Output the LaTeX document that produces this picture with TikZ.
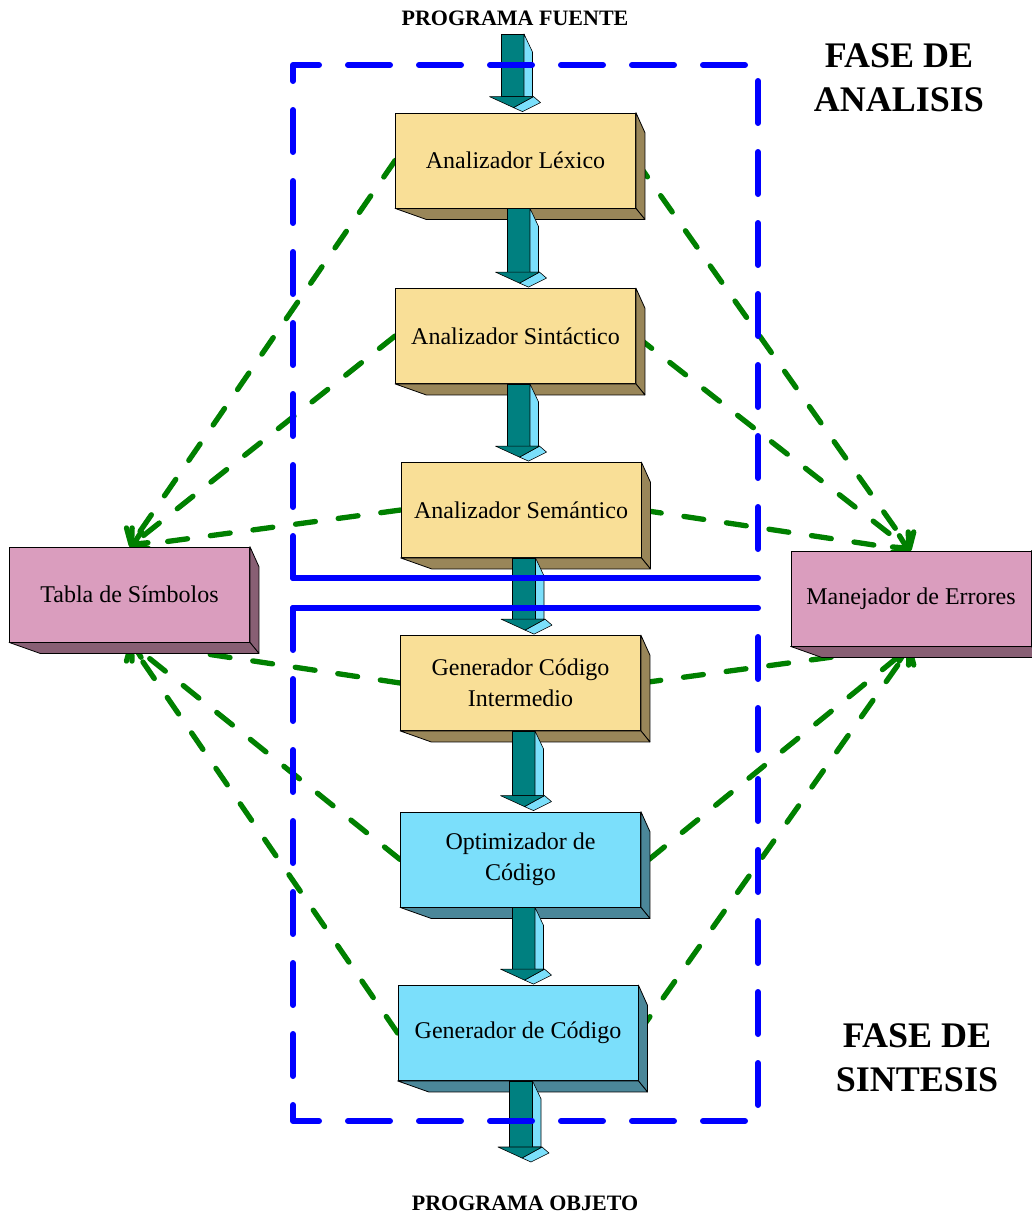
\documentclass[tikz,border=0pt]{standalone}
\usepackage{fontspec}
\setmainfont{Liberation Serif}
\usetikzlibrary{arrows.meta,calc}

\definecolor{sandface}{HTML}{F9DF97}
\definecolor{sandside}{HTML}{998659}
\definecolor{skyface}{HTML}{7BDFFB}
\definecolor{skyside}{HTML}{4B8799}
\definecolor{roseface}{HTML}{DA9DBE}
\definecolor{roseside}{HTML}{885F74}
\definecolor{shaftteal}{HTML}{008080}
\definecolor{shaftlight}{HTML}{7BDFFB}
\definecolor{linkgreen}{HTML}{008000}
\definecolor{frameblue}{HTML}{0000FF}

\pgfdeclarelayer{background}
\pgfsetlayers{background,main}

\tikzset{
  stage/.style={draw=black, line width=0.8pt, minimum width=240pt,
    minimum height=95pt, inner sep=0pt, align=center,
    font=\fontsize{24}{31}\selectfont},
  analysis/.style={stage, fill=sandface},
  synthesis/.style={stage, fill=skyface},
  support/.style={stage, fill=roseface},
  facet/.style={draw=black, line width=0.8pt, line join=round},
  shaftpart/.style={draw=black, line width=0.6pt, line join=round},
  link/.style={draw=linkgreen, line width=5.3pt, line cap=round,
    dash pattern=on 20pt off 23pt,
    -{Straight Barb[length=11pt, width=26pt, line cap=round, line join=round]}},
  frame/.style={draw=frameblue, line width=6pt, line cap=round, line join=round},
  framedash/.style={frame, dash pattern=on 42pt off 29pt},
  heading/.style={font=\bfseries\fontsize{22}{26}\selectfont},
  phase/.style={font=\bfseries\fontsize{36}{44}\selectfont, align=center},
}

% 3D side and bottom faces of a box node
\newcommand\extrude[2]{%
  \filldraw[facet, fill=#2] (#1.north east) -- ++(9,20)
    -- ([shift={(9,11)}]#1.south east) -- (#1.south east) -- cycle;
  \filldraw[facet, fill=#2] (#1.south west) -- ++(31,11)
    -- ([shift={(9,11)}]#1.south east) -- (#1.south east) -- cycle;
}

% 3D block arrow from point #1 (shaft top) to point #2 (just below tip)
\newcommand\blkarrow[2]{%
  \path let \p1=#1, \p2=#2 in
    coordinate (bt) at (\x1+3pt,\y1)
    coordinate (bh) at (\x1+3pt,\y2+16pt);
  \filldraw[shaftpart, fill=shaftteal] ([xshift=-11.5pt]bt) -- ([xshift=11.5pt]bt)
    -- ([xshift=11.5pt]bh) -- ([xshift=-11.5pt]bh) -- cycle;
  \filldraw[shaftpart, fill=shaftlight] ([xshift=11.5pt]bt) -- ([shift={(20,18)}]bt)
    -- ([xshift=20pt]bh) -- ([xshift=11.5pt]bh) -- cycle;
  \filldraw[shaftpart, fill=shaftlight] ([xshift=21pt]bh) -- ([shift={(28,6)}]bh)
    -- ([shift={(10,15)}]bh) -- ([shift={(1,11)}]bh) -- cycle;
  \filldraw[shaftpart, fill=shaftteal] ([xshift=-23pt]bh) -- ([xshift=21pt]bh)
    -- ([shift={(1,11)}]bh) -- cycle;
}

\begin{document}
\begin{tikzpicture}[x=1pt, y=-1pt]
\useasboundingbox (0,0) rectangle (1032,1215);

% compiler stages
\node[analysis]  (lex) at (515.5,160.5) {Analizador Léxico};
\node[analysis]  (sin) at (515.5,336)   {Analizador Sintáctico};
\node[analysis]  (sem) at (521,510)     {Analizador Semántico};
\node[analysis]  (gci) at (520.5,683)   {Generador Código\\Intermedio};
\node[synthesis] (opt) at (520.5,859.5) {Optimizador de\\Código};
\node[synthesis] (gen) at (518,1033)    {Generador de Código};

% shared components
\node[support] (tab) at (129.5,594.5) {Tabla de Símbolos};
\node[support] (man) at (911,598.5)   {Manejador de Errores};

\extrude{lex}{sandside}
\extrude{sin}{sandside}
\extrude{sem}{sandside}
\extrude{gci}{sandside}
\extrude{opt}{skyside}
\extrude{gen}{skyside}
\extrude{tab}{roseside}
\extrude{man}{roseside}

% labels
\node[heading] (fuente) at (515,18)   {PROGRAMA FUENTE};
\node[heading] (objeto) at (525,1203) {PROGRAMA OBJETO};
\node[phase] (analisis) at (899,78)   {FASE DE\\ANALISIS};
\node[phase] (sintesis) at (917,1058) {FASE DE\\SINTESIS};

\coordinate (srcpt) at (509.5,34);
\coordinate (dst) at (522,1163);

% data flow between stages
\blkarrow{(srcpt)}{(lex.north)}
\blkarrow{(lex.south)}{(sin.north)}
\blkarrow{(sin.south)}{(sem.north)}
\blkarrow{(sem.south)}{(gci.north)}
\blkarrow{(gci.south)}{(opt.north)}
\blkarrow{(opt.south)}{(gen.north)}
\blkarrow{(gen.south)}{(dst)}

% links to symbol table and error handler
\begin{pgfonlayer}{background}
  \draw[link] (lex.west) -- (tab.north);
  \draw[link] (sin.west) -- (tab.north);
  \draw[link] (sem.west) -- (tab.north);
  \draw[link] (gci.west) -- (tab.south);
  \draw[link] (opt.west) -- (tab.south);
  \draw[link] (gen.west) -- (tab.south);
  \draw[link] (lex.east) -- (man.north);
  \draw[link] (sin.east) -- (man.north);
  \draw[link] (sem.east) -- (man.north);
  \draw[link] (gci.east) -- (man.south);
  \draw[link] ([xshift=8pt]opt.east) -- (man.south);
  \draw[link] (gen.east) -- (man.south);
\end{pgfonlayer}

% phase frames
\draw[framedash] (293,578) -- (293,65) -- (758,65) -- (758,578);
\draw[frame] (293,578) -- (758,578);
\draw[framedash] (293,608) -- (293,1121) -- (758,1121) -- (758,608);
\draw[frame] (293,608) -- (758,608);
\end{tikzpicture}
\end{document}
